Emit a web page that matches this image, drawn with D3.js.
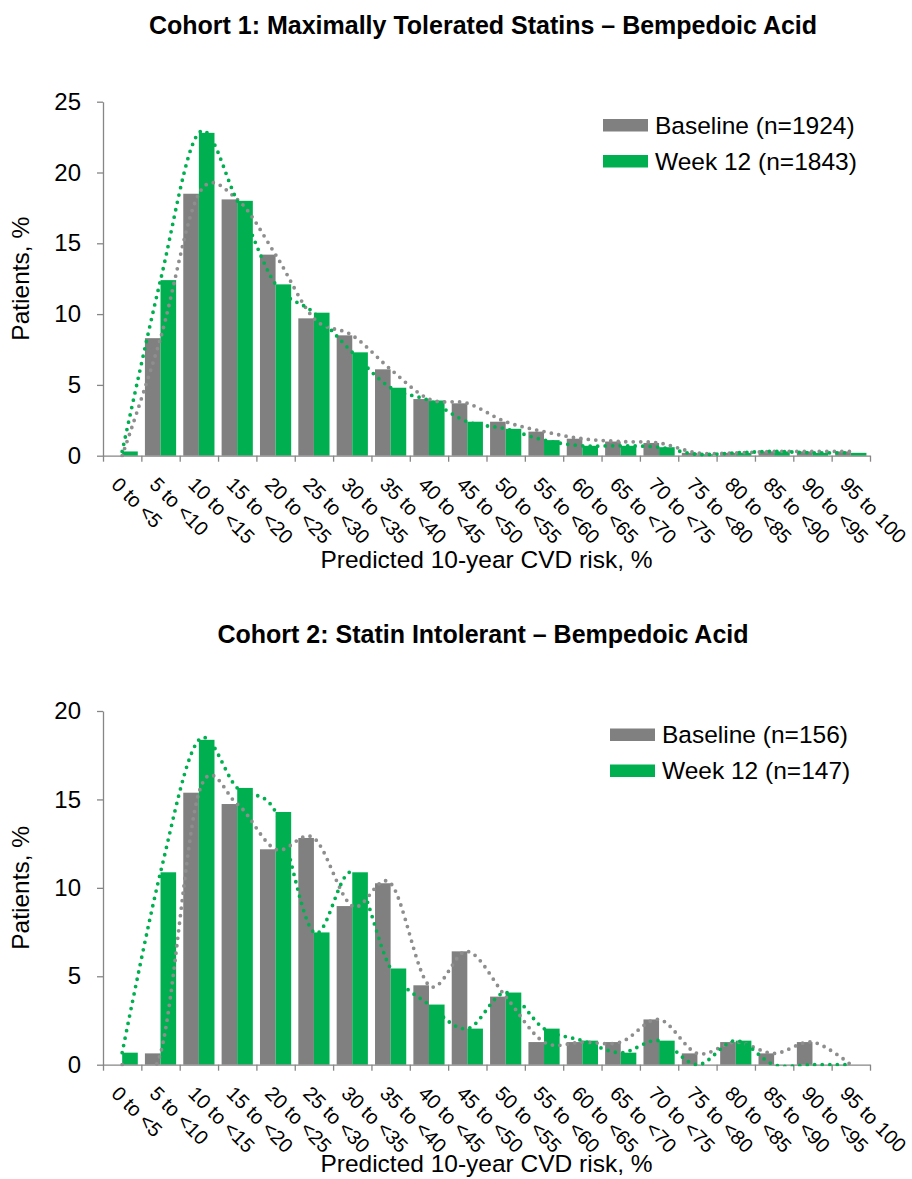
<!DOCTYPE html>
<html>
<head>
<meta charset="utf-8">
<script src="https://cdn.jsdelivr.net/npm/d3@7"></script>
<style>
  body { margin: 0; background: #fff; }
  text { font-family: "Liberation Sans", Arial, sans-serif; fill: #000; }
</style>
</head>
<body>
<svg id="chart"></svg>
<script>
// categories on the x axis (predicted 10-year CVD risk bins)
var categories = ["0 to <5", "5 to <10", "10 to <15", "15 to <20", "20 to <25", "25 to <30",
  "30 to <35", "35 to <40", "40 to <45", "45 to <50", "50 to <55", "55 to <60", "60 to <65",
  "65 to <70", "70 to <75", "75 to <80", "80 to <85", "85 to <90", "90 to <95", "95 to 100"];

// Cohort 1: maximally tolerated statins
var cohort1Baseline = [0, 8.3, 18.5, 18.1, 14.2, 9.7, 8.5, 6.1, 4.0, 3.7, 2.4, 1.7, 1.2, 1.0, 0.9, 0.2, 0.2, 0.3, 0.3, 0.3];
var cohort1Week12 = [0.3, 12.4, 22.8, 18.0, 12.1, 10.1, 7.3, 4.8, 3.9, 2.4, 1.9, 1.1, 0.7, 0.7, 0.6, 0.1, 0.2, 0.3, 0.2, 0.2];

// Cohort 2: statin intolerant
var cohort2Baseline = [0, 0.64, 15.38, 14.74, 12.18, 12.82, 8.97, 10.26, 4.49, 6.41, 3.85, 1.28, 1.28, 1.28, 2.56, 0.64, 1.28, 0.64, 1.28, 0];
var cohort2Week12 = [0.68, 10.88, 18.37, 15.65, 14.29, 7.48, 10.88, 5.44, 3.40, 2.04, 4.08, 2.04, 1.36, 0.68, 1.36, 0, 1.36, 0, 0, 0];

var cohort1Ticks = [0, 5, 10, 15, 20, 25];
var cohort2Ticks = [0, 5, 10, 15, 20];

var cohort1Legend = ["Baseline (n=1924)", "Week 12 (n=1843)"];
var cohort2Legend = ["Baseline (n=156)", "Week 12 (n=147)"];

var titles = ["Cohort 1: Maximally Tolerated Statins \u2013 Bempedoic Acid",
  "Cohort 2: Statin Intolerant \u2013 Bempedoic Acid"];

var width = 912, height = 1179;
var gray = "#808080", green = "#00b050", axisColor = "#868686";

var svg = d3.select("#chart")
    .attr("width", width)
    .attr("height", height);

function drawPanel(opt) {
    var g = svg.append("g");
    var x0 = 103, x1 = 870;

    var x = d3.scaleBand()
        .domain(categories)
        .range([x0, x1])
        .paddingInner(0.186)
        .paddingOuter(0.093);

    var xs = d3.scaleBand()
        .domain([0, 1])
        .range([0, x.bandwidth()]);

    var edges = d3.scaleLinear()
        .domain([0, categories.length])
        .range([x0, x1]);

    var y = d3.scaleLinear()
        .domain([0, opt.ticks[opt.ticks.length - 1]])
        .range([opt.bottom, opt.top]);

    // clip so the smoothed curves do not dip under the axis
    svg.append("clipPath")
        .attr("id", opt.id)
        .append("rect")
        .attr("x", x0 - 10)
        .attr("y", opt.top - 30)
        .attr("width", x1 - x0 + 20)
        .attr("height", y(0) - opt.top + 31.5);

    // title
    g.append("text")
        .attr("x", 483)
        .attr("y", opt.top - 68)
        .attr("text-anchor", "middle")
        .style("font-size", "25px")
        .style("font-weight", "bold")
        .text(opt.title);

    // bars
    var series = [opt.baseline, opt.week12];
    var colors = [gray, green];
    series.forEach(function (vals, s) {
        g.append("g").selectAll("rect")
            .data(vals)
            .join("rect")
            .attr("x", function (d, i) { return x(categories[i]) + xs(s); })
            .attr("width", xs.bandwidth())
            .attr("y", function (d) { return y(d); })
            .attr("height", function (d) { return y(0) - y(d); })
            .attr("fill", colors[s]);
    });

    // axes
    var yAxis = d3.axisLeft(y)
        .tickValues(opt.ticks)
        .tickSize(6)
        .tickSizeOuter(0)
        .tickPadding(16);

    var yg = g.append("g")
        .attr("transform", "translate(" + x0 + ",0)")
        .call(yAxis);
    yg.selectAll("text").style("font-size", "24px");

    var xAxis = d3.axisBottom(edges)
        .tickValues(d3.range(0, categories.length + 1))
        .tickSize(6)
        .tickSizeOuter(0)
        .tickFormat("");

    g.append("g")
        .attr("transform", "translate(0," + y(0) + ")")
        .call(xAxis);

    g.selectAll(".domain, .tick line")
        .attr("stroke", axisColor)
        .attr("stroke-width", 1.3);

    // rotated category labels
    g.append("g").selectAll("text")
        .data(categories)
        .join("text")
        .attr("transform", function (d) {
            return "translate(" + (x(d) + x.bandwidth() / 2 - 7) + "," + (y(0) + 25) + ") rotate(45)";
        })
        .attr("dy", "0.35em")
        .style("font-size", "20px")
        .text(function (d) { return d; });

    // dotted smoothed lines
    var line = d3.line()
        .x(function (d, i) { return x(categories[i]) + x.bandwidth() / 2; })
        .y(function (d) { return y(d); })
        .curve(d3.curveCardinal.tension(0));

    var lines = g.append("g").attr("clip-path", "url(#" + opt.id + ")");
    series.forEach(function (vals, s) {
        lines.append("path")
            .attr("d", line(vals))
            .attr("fill", "none")
            .attr("stroke", s === 0 ? "#8e8e8e" : green)
            .attr("stroke-width", 3.8)
            .attr("stroke-linecap", "round")
            .attr("stroke-dasharray", "0,7.5");
    });

    // axis titles
    g.append("text")
        .attr("x", (x0 + x1) / 2)
        .attr("y", y(0) + opt.xTitleDy)
        .attr("text-anchor", "middle")
        .style("font-size", "24.5px")
        .text("Predicted 10-year CVD risk, %");

    g.append("text")
        .attr("transform", "translate(29," + (opt.top + opt.bottom) / 2 + ") rotate(-90)")
        .attr("text-anchor", "middle")
        .style("font-size", "24.5px")
        .text("Patients, %");

    // legend
    var lg = g.append("g")
        .attr("transform", "translate(" + opt.legendX + "," + opt.legendY + ")");
    opt.legend.forEach(function (label, i) {
        lg.append("rect")
            .attr("x", 0)
            .attr("y", i * 36 - 6)
            .attr("width", 45)
            .attr("height", 12.5)
            .attr("fill", colors[i]);
        lg.append("text")
            .attr("x", 52)
            .attr("y", i * 36 + 8.5)
            .style("font-size", "24.5px")
            .text(label);
    });
}

drawPanel({
    id: "clip1",
    title: titles[0],
    baseline: cohort1Baseline,
    week12: cohort1Week12,
    ticks: cohort1Ticks,
    legend: cohort1Legend,
    top: 101.7,
    bottom: 455.7,
    xTitleDy: 112,
    legendX: 603,
    legendY: 125
});

drawPanel({
    id: "clip2",
    title: titles[1],
    baseline: cohort2Baseline,
    week12: cohort2Week12,
    ticks: cohort2Ticks,
    legend: cohort2Legend,
    top: 711,
    bottom: 1064.7,
    xTitleDy: 107.5,
    legendX: 610,
    legendY: 734.5
});
</script>
</body>
</html>
